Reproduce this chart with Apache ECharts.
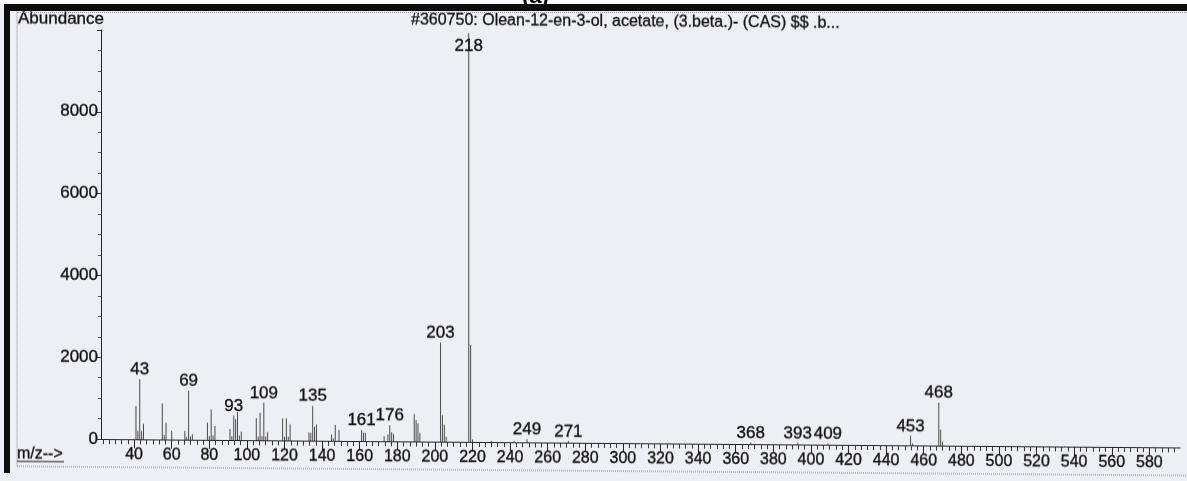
<!DOCTYPE html>
<html>
<head>
<meta charset="utf-8">
<script src="https://cdn.jsdelivr.net/npm/echarts@6/dist/echarts.min.js"></script>
<style>
  html, body { margin: 0; padding: 0; background: #eeeef5; overflow: hidden; width: 1187px; height: 481px; }
  #wrap { position: absolute; left: 0; top: 0; width: 1187px; height: 481px;
          transform: skewY(0.45deg); transform-origin: 101px 439px; }
  #chart { width: 1187px; height: 481px; }
  .deco { position: absolute; }
  #cap { position: absolute; left: 522px; top: -17px; font: bold 22px 'Liberation Sans', Arial, sans-serif; color: #000; }
</style>
</head>
<body>
<div id="wrap"><div id="chart"></div></div>
<div class="deco" style="left:0;top:0;width:1187px;height:4px;background:#fbfbfd"></div>
<div id="cap">(a)</div>
<div class="deco" style="left:4px;top:4px;width:1183px;height:7px;background:#0d0d0d"></div>
<div class="deco" style="left:4px;top:4px;width:6px;height:469px;background:#0d0d0d"></div>
<div class="deco" style="left:17px;top:12px;width:1170px;height:0;border-top:1px dotted #9a9aa0"></div>
<script>
// ---- data ----
const mz = [41, 42, 43, 44, 45, 55, 56, 57, 60, 67, 68, 69, 70, 71,
  79, 80, 81, 82, 83, 91, 92, 93, 94, 95, 96, 97,
  105, 106, 107, 108, 109, 110, 111, 119, 120, 121, 122, 123,
  133, 134, 135, 136, 137, 145, 146, 147, 149, 161, 162, 163,
  173, 175, 176, 177, 178, 189, 190, 191, 192,
  203, 204, 205, 206, 218, 219, 220, 230, 242, 249, 271,
  368, 393, 409, 453, 454, 468, 469, 470];
const abundance = [810, 210, 1465, 200, 380, 880, 110, 410, 215, 215, 70, 1200, 80, 135,
  420, 90, 745, 110, 345, 270, 90, 600, 510, 680, 110, 210,
  540, 90, 670, 100, 915, 90, 200, 540, 90, 540, 90, 400,
  200, 190, 850, 340, 400, 150, 60, 390, 270, 270, 200, 200,
  120, 170, 390, 220, 180, 670, 520, 440, 210,
  2420, 650, 415, 120, 10000, 2370, 60, 30, 30, 80, 40,
  40, 40, 30, 230, 50, 1050, 390, 100];
const labeledPeaks = [43, 69, 93, 109, 135, 161, 176, 203, 218, 249, 271, 368, 393, 409, 453, 468];
const xTickLabels = [40, 60, 80, 100, 120, 140, 160, 180, 200, 220, 240, 260, 280, 300, 320, 340,
  360, 380, 400, 420, 440, 460, 480, 500, 520, 540, 560, 580];
const yTickLabels = [0, 2000, 4000, 6000, 8000];
const xMin = 22.4, xMax = 596.3, yMax = 10000;
const chartTitle = '#360750: Olean-12-en-3-ol, acetate, (3.beta.)- (CAS) $$ .b...';
const yTitle = 'Abundance';
const xTitle = 'm/z-->';

// minor ticks (every 1/6 of the 20-unit major step)
const minorTicks = [];
for (let k = 1; k * 20 / 6 + 20 < xMax; k++) {
  const v = 20 + k * 20 / 6;
  if (v > xMin) minorTicks.push(v);
}

const FONT = "'Liberation Sans', Arial, sans-serif";
const ink = '#111';
const thick = { textBorderColor: '#111', textBorderWidth: 0.35 };

const seriesData = mz.map((m, i) => {
  const d = { value: [m, abundance[i]] };
  if (labeledPeaks.includes(m)) {
    d.label = { show: true };
    if (abundance[i] >= yMax) { d.label.position = 'insideTop'; d.label.distance = 5; }
  }
  return d;
});

const chart = echarts.init(document.getElementById('chart'), null, { renderer: 'canvas' });
chart.setOption({
  animation: false,
  backgroundColor: 'transparent',
  textStyle: { fontFamily: FONT },
  grid: { left: 101, right: 7, top: 30, bottom: 42 },
  xAxis: [
    {
      type: 'value', min: xMin, max: xMax,
      axisLine: { show: true, lineStyle: { color: '#222', width: 1 } },
      axisTick: { show: true, customValues: minorTicks, length: 5, lineStyle: { color: '#333' } },
      axisLabel: { show: false },
      splitLine: { show: false }
    },
    {
      type: 'value', min: xMin, max: xMax, position: 'bottom',
      axisLine: { show: false },
      axisTick: { show: true, customValues: xTickLabels, length: 9, lineStyle: { color: '#222' } },
      axisLabel: Object.assign({ show: true, customValues: xTickLabels, fontSize: 16, color: ink, margin: 8, fontFamily: FONT }, thick),
      splitLine: { show: false }
    }
  ],
  yAxis: {
    type: 'value', min: 0, max: yMax, interval: 2000,
    axisLine: { show: true, lineStyle: { color: '#222', width: 1 } },
    axisTick: { show: true, length: 4, lineStyle: { color: '#333' } },
    minorTick: { show: true, splitNumber: 4, length: 3, lineStyle: { color: '#555' } },
    axisLabel: Object.assign({
      fontSize: 17, color: ink, margin: 3, fontFamily: FONT,
      formatter: v => (yTickLabels.includes(v) ? String(v) : '')
    }, thick),
    splitLine: { show: false }
  },
  series: [{
    type: 'bar',
    xAxisIndex: 0, yAxisIndex: 0,
    barWidth: 1,
    data: seriesData,
    itemStyle: { color: '#4a4a4a' },
    label: Object.assign({
      show: false, position: 'top', distance: 1,
      fontSize: 17, color: ink, fontFamily: FONT,
      formatter: p => String(p.value[0])
    }, thick)
  }],
  graphic: [
    { type: 'line', shape: { x1: 17, y1: 12, x2: 17, y2: 467 }, style: { stroke: '#8a8a90', lineWidth: 1, lineDash: [1, 1] } },
    { type: 'line', shape: { x1: 17, y1: 467, x2: 1187, y2: 467 }, style: { stroke: '#7a7a80', lineWidth: 1, lineDash: [1, 1] } },
    { type: 'text', x: 18, y: 11, style: { text: yTitle, font: "17px " + FONT, fill: ink, textVerticalAlign: 'top', stroke: '#111', lineWidth: 0.35 } },
    { type: 'text', x: 411, y: 10, style: { text: chartTitle, font: "16px " + FONT, fill: ink, textVerticalAlign: 'top', stroke: '#111', lineWidth: 0.3 } },
    { type: 'text', x: 17, y: 455, style: { text: xTitle, font: "16px " + FONT, fill: ink, textVerticalAlign: 'middle', stroke: '#111', lineWidth: 0.3 } },
    { type: 'line', shape: { x1: 17, y1: 462, x2: 64, y2: 462 }, style: { stroke: ink, lineWidth: 1 } }
  ]
});
</script>
</body>
</html>
